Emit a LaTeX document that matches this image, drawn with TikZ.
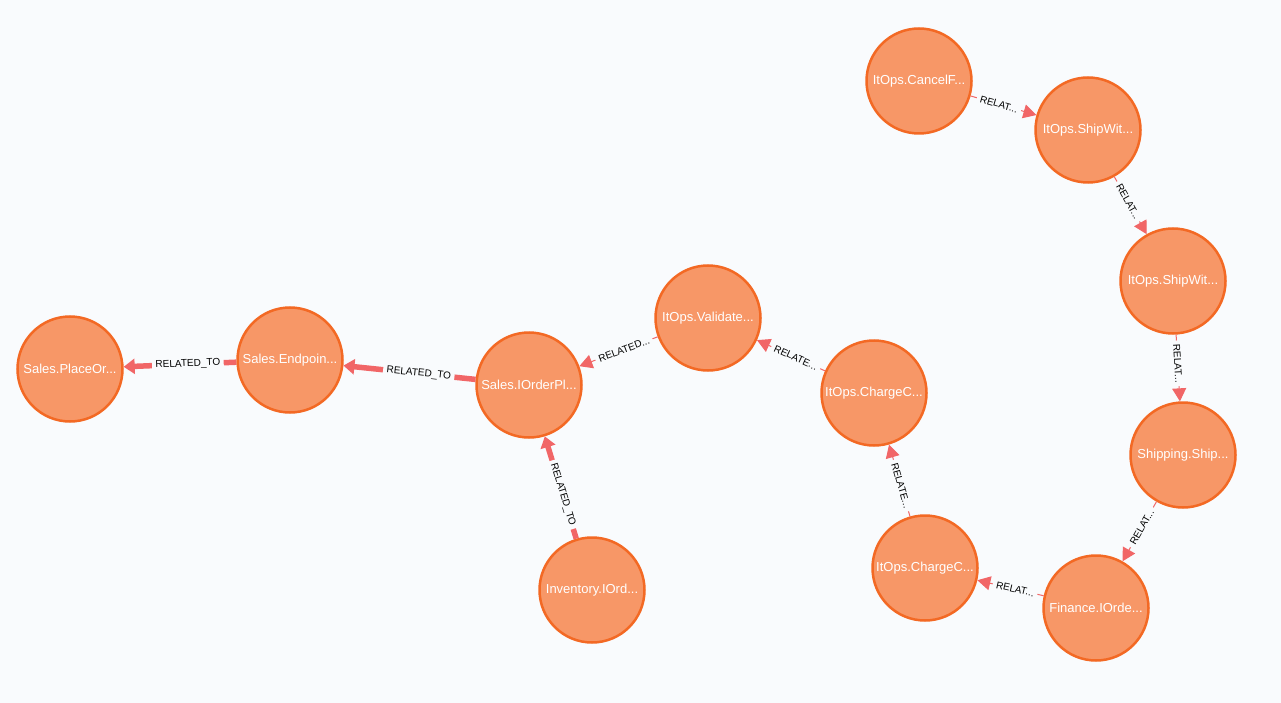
\documentclass[tikz,border=0pt]{standalone}
\usepackage{fontspec}
\setmainfont{Liberation Sans}
\usetikzlibrary{arrows.meta}

\definecolor{nodefill}{HTML}{F79767}
\definecolor{nodeline}{HTML}{F36924}
\definecolor{edgecol}{HTML}{F16667}
\definecolor{canvas}{HTML}{F9FBFD}

\begin{document}
\begin{tikzpicture}[x=1pt, y=-1pt,
	entity/.style={circle, fill=nodefill, draw=nodeline, line width=2.5pt, minimum size=105pt, inner sep=0pt, text=white, font=\fontsize{13}{15}\selectfont},
	rel/.style={draw=edgecol, line width=1pt, -{Triangle[length=13pt,width=14pt]}},
	relthick/.style={draw=edgecol, line width=5.5pt, -{Triangle[length=11pt,width=15pt]}},
	rellabel/.style={sloped, pos=0.43, fill=canvas, inner xsep=3.5pt, inner ysep=1pt, text=black, font=\fontsize{10}{11}\selectfont}]

	% canvas
	\fill [canvas] (0,0) rectangle (1281,703);
	\useasboundingbox (0,0) rectangle (1281,703);

	% sales side
	\node [entity] (placeor) at (70,369) {Sales.PlaceOr...};
	\node [entity] (endpoint) at (290,360) {Sales.Endpoin...};
	\node [entity] (iorderpl) at (529,385) {Sales.IOrderPl...};
	\node [entity] (inventory) at (592,590) {Inventory.IOrd...};

	% itops / finance / shipping chain
	\node [entity] (validate) at (708,318) {ItOps.Validate...};
	\node [entity] (chargeup) at (874,393) {ItOps.ChargeC...};
	\node [entity] (chargelow) at (925,568) {ItOps.ChargeC...};
	\node [entity] (finance) at (1096,608) {Finance.IOrde...};
	\node [entity] (shipping) at (1183,455) {Shipping.Ship...};
	\node [entity] (shipwitlow) at (1173,281) {ItOps.ShipWit...};
	\node [entity] (shipwitup) at (1088,130) {ItOps.ShipWit...};
	\node [entity] (cancelf) at (919,81) {ItOps.CancelF...};

	% relations
	\draw [relthick] (endpoint) -- node [rellabel] {RELATED\_TO} (placeor);
	\draw [relthick] (iorderpl) -- node [rellabel] {RELATED\_TO} (endpoint);
	\draw [relthick] (inventory) -- node [rellabel] {RELATED\_TO} (iorderpl);
	\draw [rel] (validate) -- node [rellabel] {RELATED...} (iorderpl);
	\draw [rel] (chargeup) -- node [rellabel] {RELATE...} (validate);
	\draw [rel] (chargelow) -- node [rellabel] {RELATE...} (chargeup);
	\draw [rel] (finance) -- node [rellabel] {RELAT...} (chargelow);
	\draw [rel] (shipping) -- node [rellabel] {RELAT...} (finance);
	\draw [rel] (shipwitlow) -- node [rellabel] {RELAT...} (shipping);
	\draw [rel] (shipwitup) -- node [rellabel] {RELAT...} (shipwitlow);
	\draw [rel] (cancelf) -- node [rellabel] {RELAT...} (shipwitup);
\end{tikzpicture}
\end{document}
